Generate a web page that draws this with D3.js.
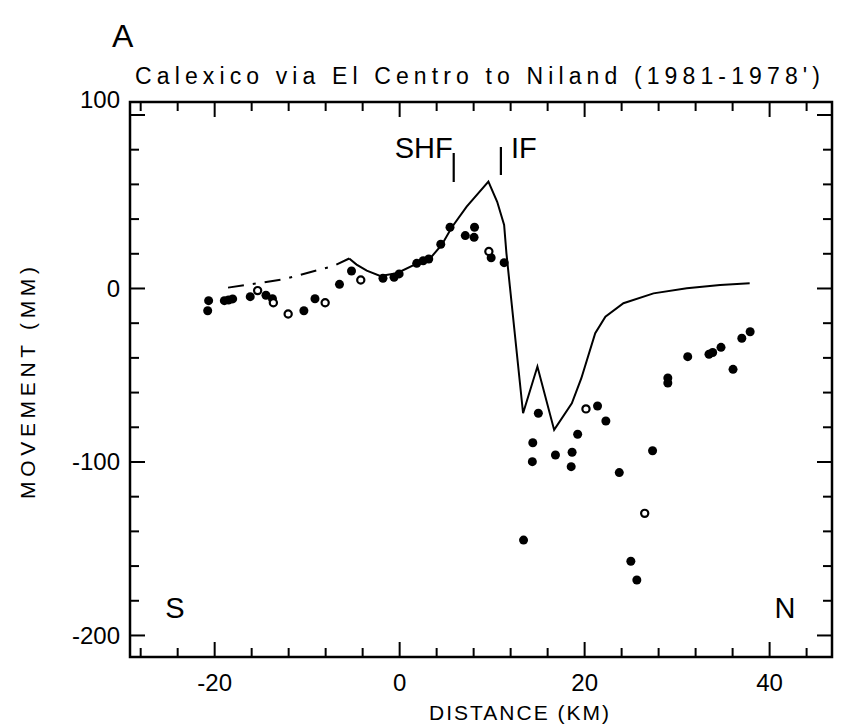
<!DOCTYPE html>
<html lang="en">
<head>
  <meta charset="UTF-8">
  <title>Calexico via El Centro to Niland</title>
  <script src="https://d3js.org/d3.v7.min.js"></script>
  <style>
    body { margin: 0; background: #fff; }
    text { font-family: "Liberation Sans", Arial, sans-serif; fill: #000; }
    .axis path { display: none; }
    .axis line { stroke: #000; stroke-width: 2; }
  </style>
</head>
<body>
<svg id="chart" width="862" height="724"></svg>
<script>
// modelled curve, south part (broken line)
const dashX = [-18.5, -12.5, -7.1, -5.4];
const dashY = [0.2, 5, 12.7, 17];

// modelled curve, solid part
const lineX = [-5.4, -4.6, -3.5, -2.05, -0.25, 2.3, 3.35, 4.6, 5.7, 7.3, 9.65, 10.6, 11.35, 11.6,
               13.4, 14.95, 16.76, 18.67, 19.7, 21.2, 22.3, 24.25, 27.5, 31.1, 34.7, 37.9];
const lineY = [17, 13.5, 10, 6.9, 8.5, 15, 17.1, 24.8, 35, 46.9, 61.3, 49.7, 36.3, 20,
               -72.2, -45.3, -81.8, -66.5, -52, -26.1, -16.5, -8.8, -3.1, -0.2, 1.7, 2.7];

// observed movement, filled dots
const filledX = [-20.6, -20.7, -18.9, -18.45, -18, -16.1, -14.4, -13.7, -10.3, -9.1, -6.45, -5.15,
                 -1.75, -0.55, 0, 1.9, 2.6, 3.2, 4.5, 5.5, 7.15, 8.1, 8.15, 9.95, 11.35,
                 15.05, 14.45, 21.45, 22.35, 19.3, 29.05, 29.05, 31.2, 33.5, 33.9, 34.8, 36.1,
                 37.05, 37.95, 14.4, 16.9, 18.7, 18.6, 27.4, 23.8, 13.45, 25.05, 25.7];
const filledY = [-7.3, -13.1, -7.3, -6.9, -6.3, -5, -4.2, -6.2, -13.1, -6.2, 2.1, 9.8,
                 5.6, 6.2, 8.1, 14.2, 15.7, 16.7, 25.2, 35, 30.2, 29.2, 35, 17.4, 14.6,
                 -72.2, -89.2, -68, -76.7, -84.3, -51.9, -54.8, -39.6, -38.2, -37.2, -34.2, -46.9,
                 -29, -25.2, -100.1, -96.3, -94.7, -103, -93.8, -106.4, -145.3, -157.5, -168.3];

// observed movement, open dots
const openX = [-15.3, -13.6, -12, -8, -4.15, 9.7, 20.2, 26.55];
const openY = [-1.5, -8.5, -15, -8.5, 4.6, 21, -69.7, -129.9];

const xTicks = d3.range(-28, 47, 4);
const yTicks = d3.range(-200, 101, 20);
const xLabels = [-20, 0, 20, 40];
const yLabels = [-200, -100, 0, 100];

// fault marks
const faults = [{ name: "SHF", x: 5.9, y1: 153, y2: 182 }, { name: "IF", x: 11, y1: 147, y2: 175 }];

const svg = d3.select("#chart");
const plotL = 130, plotR = 832, plotT = 102, plotB = 657;

const x = d3.scaleLinear().domain([-29.1, 46.8]).range([plotL, plotR]);
const y = d3.scaleLinear().domain([-212.7, 107.2]).range([plotB, plotT]);

// frame
svg.append("rect")
    .attr("x", plotL).attr("y", plotT)
    .attr("width", plotR - plotL).attr("height", plotB - plotT)
    .attr("fill", "none").attr("stroke", "#000").attr("stroke-width", 2.5);

function tickLen(major) { return major ? 15 : 9; }

// bottom axis
const xb = svg.append("g").attr("class", "axis")
    .attr("transform", `translate(0,${plotB})`)
    .call(d3.axisBottom(x).tickValues(xTicks).tickSize(0).tickPadding(12)
      .tickFormat(d => xLabels.includes(d) ? String(d) : ""));
xb.selectAll(".tick line").attr("y2", d => -tickLen(d % 20 === 0));
xb.selectAll(".tick text").attr("font-size", 24).attr("dy", "0.9em");

// top axis
const xt = svg.append("g").attr("class", "axis")
    .attr("transform", `translate(0,${plotT})`)
    .call(d3.axisTop(x).tickValues(xTicks).tickSize(0).tickFormat(""));
xt.selectAll(".tick line").attr("y2", d => tickLen(d % 20 === 0));

// left axis
const yl = svg.append("g").attr("class", "axis")
    .attr("transform", `translate(${plotL},0)`)
    .call(d3.axisLeft(y).tickValues(yTicks).tickSize(0).tickPadding(10)
      .tickFormat(d => yLabels.includes(d) ? String(d) : ""));
yl.selectAll(".tick line").attr("x2", d => tickLen(d % 100 === 0));
yl.selectAll(".tick text").attr("font-size", 24)
    .attr("dy", d => d === 100 ? "-0.3em" : "0.35em");

// right axis
const yr = svg.append("g").attr("class", "axis")
    .attr("transform", `translate(${plotR},0)`)
    .call(d3.axisRight(y).tickValues(yTicks).tickSize(0).tickFormat(""));
yr.selectAll(".tick line").attr("x2", d => -tickLen(d % 100 === 0));

// curves
const line = d3.line().x(d => x(d[0])).y(d => y(d[1]));
svg.append("path")
    .datum(dashX.map((v, i) => [v, dashY[i]]))
    .attr("d", line)
    .attr("fill", "none").attr("stroke", "#000").attr("stroke-width", 2)
    .attr("stroke-dasharray", "16,9,3,9");
svg.append("path")
    .datum(lineX.map((v, i) => [v, lineY[i]]))
    .attr("d", line)
    .attr("fill", "none").attr("stroke", "#000").attr("stroke-width", 2)
    .attr("stroke-linejoin", "miter");

// dots
svg.append("g").selectAll("circle")
    .data(filledX.map((v, i) => [v, filledY[i]]))
    .join("circle")
    .attr("cx", d => x(d[0])).attr("cy", d => y(d[1]))
    .attr("r", 4.5).attr("fill", "#000");
svg.append("g").selectAll("circle")
    .data(openX.map((v, i) => [v, openY[i]]))
    .join("circle")
    .attr("cx", d => x(d[0])).attr("cy", d => y(d[1]))
    .attr("r", 3.6).attr("fill", "#fff").attr("stroke", "#000").attr("stroke-width", 2.2);

// fault markers
svg.append("g").selectAll("line")
    .data(faults)
    .join("line")
    .attr("x1", d => x(d.x)).attr("x2", d => x(d.x))
    .attr("y1", d => d.y1).attr("y2", d => d.y2)
    .attr("stroke", "#000").attr("stroke-width", 2.2);
svg.append("text").attr("x", x(faults[0].x) - 1).attr("y", 158)
    .attr("text-anchor", "end").attr("font-size", 29).text(faults[0].name);
svg.append("text").attr("x", x(faults[1].x) + 10).attr("y", 158)
    .attr("font-size", 29).text(faults[1].name);

// S / N
svg.append("text").attr("x", 175).attr("y", 618).attr("text-anchor", "middle")
    .attr("font-size", 29).text("S");
svg.append("text").attr("x", 785).attr("y", 618).attr("text-anchor", "middle")
    .attr("font-size", 29).text("N");

// panel letter
svg.append("text").attr("x", 112).attr("y", 47).attr("font-size", 32).text("A");

// title
svg.append("text").attr("x", 135).attr("y", 84)
    .attr("font-size", 23).attr("textLength", 685).attr("lengthAdjust", "spacing")
    .text("Calexico via El Centro to Niland (1981-1978')");

// axis titles
svg.append("text").attr("x", 520).attr("y", 720).attr("text-anchor", "middle")
    .attr("font-size", 21).attr("letter-spacing", 2).text("DISTANCE (KM)");
svg.append("text")
    .attr("transform", "translate(35,383) rotate(-90)")
    .attr("text-anchor", "middle").attr("font-size", 21)
    .attr("textLength", 232).attr("lengthAdjust", "spacing")
    .text("MOVEMENT (MM)");
</script>
</body>
</html>
